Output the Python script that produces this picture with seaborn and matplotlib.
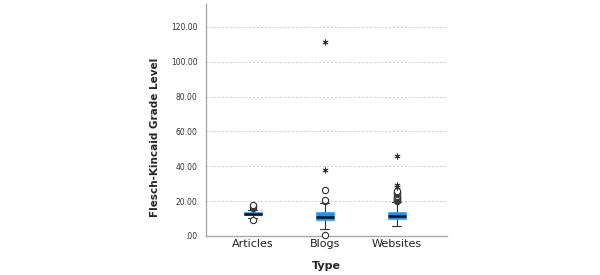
import matplotlib
matplotlib.use("Agg")
import matplotlib.pyplot as plt
import pandas as pd
import seaborn as sns
from matplotlib.ticker import FuncFormatter

# ── 数据 ─────────────────────────────────────────────
types = ["Articles", "Blogs", "Websites"]
# 箱线图五数: 下须, Q1, 中位数, Q3, 上须
articles_box = [10.2, 12.1, 12.8, 13.5, 14.8]
blogs_box = [3.8, 9.2, 11.1, 13.7, 19.1]
websites_box = [5.9, 9.8, 11.7, 14.0, 19.4]
# 离群值 (○) 和 极值 (*)
articles_out = [9.2, 15.8, 16.5, 17.4, 18.0]
blogs_out = [0.4, 20.3, 20.7, 26.5]
websites_out = [20.2, 20.6, 21.0, 21.5, 22.0, 22.6, 23.2, 23.8, 24.5, 25.3, 26.0]
blogs_ext = [37.9, 111.0]
websites_ext = [27.8, 29.5, 46.1]

sns.set_theme(style="white")
plt.rcParams["font.family"] = ["DejaVu Sans"]

box_df = pd.DataFrame({
    "Type": ["Articles"] * 5 + ["Blogs"] * 5 + ["Websites"] * 5,
    "FK": articles_box + blogs_box + websites_box,
})
out_df = pd.DataFrame({
    "Type": ["Articles"] * len(articles_out) + ["Blogs"] * len(blogs_out)
            + ["Websites"] * len(websites_out),
    "FK": articles_out + blogs_out + websites_out,
})
ext_df = pd.DataFrame({
    "Type": ["Blogs"] * len(blogs_ext) + ["Websites"] * len(websites_ext),
    "FK": blogs_ext + websites_ext,
})

fig, ax = plt.subplots(figsize=(6, 2.75), dpi=100)
fig.subplots_adjust(left=0.343, right=0.745, bottom=0.142, top=0.985)

sns.boxplot(data=box_df, x="Type", y="FK", order=types, ax=ax,
            whis=(0, 100), showfliers=False, width=0.25,
            boxprops=dict(facecolor="#1f8ff0", edgecolor="#55aef5", linewidth=0.8),
            medianprops=dict(color="#111111", linewidth=1.8),
            whiskerprops=dict(color="#333333", linewidth=0.8),
            capprops=dict(color="#333333", linewidth=0.8))

sns.stripplot(data=out_df, x="Type", y="FK", order=types, ax=ax,
              jitter=False, marker="o", size=4.5, color="white",
              edgecolor="#333333", linewidth=0.8, zorder=5, clip_on=False)
sns.stripplot(data=ext_df, x="Type", y="FK", order=types, ax=ax,
              jitter=False, marker=(6, 2, 0), size=4, color="#333333",
              edgecolor="#333333", linewidth=0.55, zorder=5)

ax.set_xlim(-0.65, 2.7)
ax.set_ylim(0, 133)
ax.set_yticks([0, 20, 40, 60, 80, 100, 120])
ax.yaxis.set_major_formatter(FuncFormatter(
    lambda v, p: f"{v:.2f}".lstrip("0") if v == 0 else f"{v:.2f}"))
ax.yaxis.grid(True, linestyle=(0, (2, 2)), color="#cccccc", linewidth=0.7)
ax.set_axisbelow(True)

for s in ["top", "right"]:
    ax.spines[s].set_visible(False)
for s in ["left", "bottom"]:
    ax.spines[s].set_color("#aaaaaa")
    ax.spines[s].set_linewidth(1.0)

ax.tick_params(axis="y", labelsize=5.5, colors="#333333", length=0, pad=6)
ax.tick_params(axis="x", labelsize=8, colors="#222222", length=0, pad=2)
ax.set_xlabel("Type", fontsize=8, fontweight="bold", labelpad=9)
ax.set_ylabel("Flesch-Kincaid Grade Level", fontsize=7.5, fontweight="bold")
ax.yaxis.set_label_coords(-0.19, 0.427)

fig.savefig("out.png", dpi=100)
